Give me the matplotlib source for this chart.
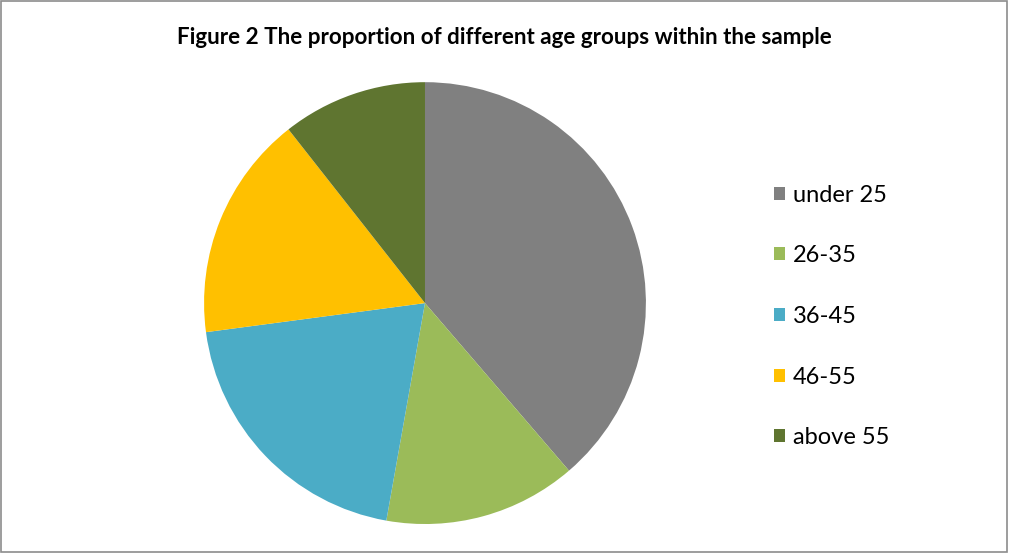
import matplotlib.pyplot as plt
from matplotlib.patches import Patch, Rectangle

# age groups in the sample
labels = ["under 25", "26-35", "36-45", "46-55", "above 55"]
shares = [38.7, 14.1, 20.1, 16.5, 10.6]
colors = ["#808080", "#9BBB59", "#4BACC6", "#FFC000", "#5F7530"]

plt.rcParams['font.family'] = ['Lato', 'DejaVu Sans']

fig = plt.figure(figsize=(10.09, 5.53), dpi=100)
ax = fig.add_axes([0.2022, 0.0524, 0.438, 0.799])

ax.pie(shares, colors=colors, startangle=90, counterclock=False,
       radius=1, wedgeprops=dict(linewidth=0))
ax.set_xlim(-1, 1)
ax.set_ylim(-1, 1)
ax.set_aspect('equal')
ax.axis('off')

fig.text(0.5, 1 - 38 / 553, "Figure 2 The proportion of different age groups within the sample",
         ha='center', va='center', fontsize=16.1, fontweight='bold')

handles = [Patch(facecolor=c, edgecolor='none') for c in colors]
fig.legend(handles, labels, loc='upper left', bbox_to_anchor=(774 / 1009, 1 - 184.5 / 553),
           frameon=False, fontsize=17, labelspacing=1.68, handlelength=0.47,
           handleheight=0.47, handletextpad=0.33, borderpad=0, borderaxespad=0)

# chart border
fig.add_artist(Rectangle((0.001, 0.001), 0.997, 0.997, transform=fig.transFigure,
                         fill=False, edgecolor='#8c8c8c', linewidth=1.2))

fig.savefig("out.png", dpi=100)
